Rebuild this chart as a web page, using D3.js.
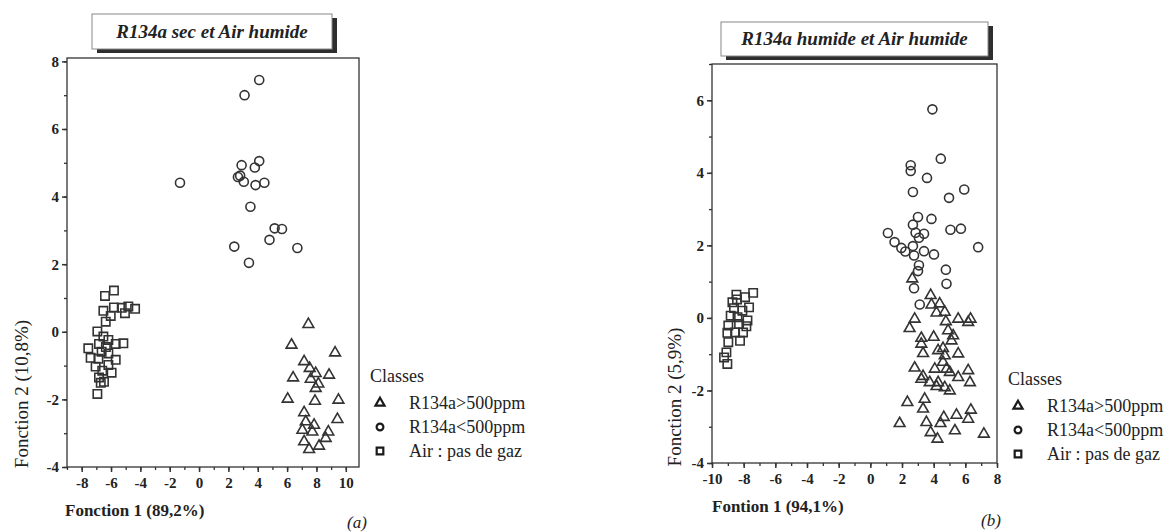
<!DOCTYPE html>
<html><head><meta charset="utf-8">
<script src="https://cdn.jsdelivr.net/npm/d3@7"></script>
<style>body{margin:0;background:#fff}svg{display:block}text{font-family:"Liberation Serif","Times New Roman",serif;fill:#222}</style>
</head><body><svg id="c" width="1164" height="532"></svg>
<script>
const classLabels = ["R134a>500ppm", "R134a<500ppm", "Air : pas de gaz"];
const titleA = "R134a sec et Air humide";
const titleB = "R134a humide et Air humide";
const xTitleA = "Fonction 1 (89,2%)", yTitleA = "Fonction 2 (10,8%)";
const xTitleB = "Fontion 1 (94,1%)", yTitleB = "Fonction 2 (5,9%)";
const xTicksA = [-8,-6,-4,-2,0,2,4,6,8,10], yTicksA = [-4,-2,0,2,4,6,8];
const xTicksB = [-10,-8,-6,-4,-2,0,2,4,6,8], yTicksB = [-4,-2,0,2,4,6];

const aTriangles = [[7.45,0.22],[6.3,-0.39],[9.27,-0.62],[7.16,-0.88],[7.54,-1.08],[7.95,-1.23],[8.86,-1.28],[6.41,-1.36],[7.61,-1.40],[8.13,-1.54],[7.95,-1.67],[6.04,-1.99],[7.9,-2.05],[9.5,-2.02],[7.16,-2.39],[9.43,-2.59],[7.27,-2.66],[7.84,-2.76],[7.04,-2.91],[7.72,-2.96],[8.81,-2.96],[8.63,-3.15],[7.16,-3.25],[8.18,-3.38],[7.5,-3.48]];
const aCircles = [[4.1,7.45],[3.1,7.0],[4.1,5.05],[2.9,4.93],[3.8,4.86],[2.8,4.62],[2.65,4.58],[3.05,4.44],[3.85,4.34],[4.45,4.41],[-1.3,4.41],[3.5,3.7],[5.15,3.06],[5.65,3.04],[4.8,2.72],[2.4,2.52],[6.7,2.48],[3.4,2.04]];
const aSquares = [[-5.8,1.22],[-6.41,1.06],[-6.52,0.62],[-5.8,0.72],[-5.27,0.71],[-4.82,0.75],[-4.36,0.68],[-5.05,0.55],[-6.02,0.47],[-6.36,0.3],[-6.93,0.01],[-6.52,-0.14],[-6.18,-0.24],[-5.16,-0.34],[-5.68,-0.36],[-6.82,-0.36],[-7.55,-0.49],[-6.64,-0.59],[-6.18,-0.64],[-7.39,-0.77],[-6.86,-0.8],[-5.68,-0.83],[-6.18,-0.98],[-7.05,-1.03],[-5.96,-1.21],[-6.82,-1.35],[-6.48,-1.48],[-6.7,-1.51],[-6.93,-1.84],[-6.35,-0.45],[-6.6,-1.15]];

const bTriangles = [[2.65,1.08],[3.81,0.62],[3.86,0.36],[4.38,0.39],[4.7,0.16],[4.18,0.14],[5.55,-0.03],[6.33,-0.03],[6.18,-0.12],[2.8,-0.03],[4.77,-0.1],[2.48,-0.29],[4.91,-0.35],[5.23,-0.49],[3.22,-0.56],[4.0,-0.53],[5.13,-0.63],[3.22,-0.72],[4.59,-0.84],[4.28,-0.9],[3.33,-0.98],[5.55,-0.99],[4.7,-1.04],[4.59,-1.22],[2.8,-1.38],[4.07,-1.41],[4.81,-1.41],[5.02,-1.5],[6.18,-1.45],[3.33,-1.61],[5.55,-1.64],[3.75,-1.78],[6.29,-1.78],[4.28,-1.78],[3.22,-1.69],[4.18,-1.89],[4.7,-1.92],[5.02,-2.01],[2.34,-2.33],[3.43,-2.24],[3.33,-2.51],[6.35,-2.54],[5.44,-2.68],[4.64,-2.74],[6.18,-2.79],[1.85,-2.91],[3.54,-2.88],[4.43,-2.91],[3.81,-3.16],[5.34,-3.11],[7.17,-3.2],[4.24,-3.34]];
const bCircles = [[3.92,5.75],[4.45,4.39],[2.55,4.21],[2.55,4.05],[3.58,3.86],[2.69,3.47],[5.93,3.54],[4.97,3.31],[3.01,2.78],[3.86,2.73],[2.69,2.57],[5.06,2.43],[5.72,2.46],[2.86,2.35],[3.39,2.32],[1.11,2.34],[3.07,2.21],[1.53,2.09],[2.69,1.98],[1.96,1.93],[3.39,1.84],[2.21,1.83],[4.02,1.75],[2.76,1.72],[6.81,1.95],[3.07,1.45],[3.01,1.29],[4.77,1.33],[4.81,0.94],[2.76,0.82],[3.12,0.37]];
const bSquares = [[-7.4,0.69],[-8.46,0.64],[-7.91,0.57],[-8.42,0.51],[-8.71,0.43],[-7.66,0.29],[-8.61,0.27],[-8.08,0.2],[-8.82,0.06],[-8.39,0.02],[-7.76,-0.07],[-8.97,-0.21],[-8.29,-0.17],[-7.83,-0.23],[-9.03,-0.41],[-8.54,-0.4],[-8.04,-0.4],[-8.97,-0.67],[-8.23,-0.63],[-9.09,-0.95],[-9.24,-1.09],[-9.03,-1.27]];

const svg = d3.select("#c");
const INK = "#333";
const symTypes = [d3.symbolTriangle, d3.symbolCircle, d3.symbolSquare];
const symSizes = [50, 64, 70];
const legSizes = [36, 36, 44];

function panel(cfg) {
  const g = svg.append("g");
  const x = d3.scaleLinear().domain(cfg.xd).range(cfg.xr);
  const y = d3.scaleLinear().domain(cfg.yd).range(cfg.yr);
  const tb = cfg.tbox;
  g.append("rect").attr("x", tb[0]+5).attr("y", tb[1]+4).attr("width", tb[2]).attr("height", tb[3]).attr("fill", "#2e2e2e");
  g.append("rect").attr("x", tb[0]).attr("y", tb[1]).attr("width", tb[2]).attr("height", tb[3]).attr("fill", "#fff").attr("stroke", "#888").attr("stroke-width", 1);
  g.append("text").attr("x", tb[0]+tb[2]/2).attr("y", tb[1]+tb[3]/2+6).attr("text-anchor", "middle")
    .attr("font-size", 19).attr("font-weight", "bold").attr("font-style", "italic").attr("fill", "#1a1a1a").text(cfg.title);
  g.append("rect").attr("x", cfg.xr[0]).attr("y", cfg.yr[1]).attr("width", cfg.xr[1]-cfg.xr[0]).attr("height", cfg.yr[0]-cfg.yr[1])
    .attr("fill", "none").attr("stroke", INK).attr("stroke-width", 1.3);
  const xMinor = d3.range(Math.ceil(cfg.xd[0]), Math.floor(cfg.xd[1])+1);
  const yMinor = d3.range(Math.ceil(cfg.yd[0]), Math.floor(cfg.yd[1])+1);
  g.append("g").attr("transform", `translate(0,${cfg.yr[0]})`).call(d3.axisBottom(x).tickValues(xMinor).tickSize(3).tickFormat(""))
    .call(s => s.select(".domain").remove()).call(s => s.selectAll("line").attr("stroke", INK).attr("stroke-width", 1.3));
  g.append("g").attr("transform", `translate(${cfg.xr[0]},0)`).call(d3.axisLeft(y).tickValues(yMinor).tickSize(3).tickFormat(""))
    .call(s => s.select(".domain").remove()).call(s => s.selectAll("line").attr("stroke", INK).attr("stroke-width", 1.3));
  const xa = g.append("g").attr("transform", `translate(0,${cfg.yr[0]})`)
    .call(d3.axisBottom(x).tickValues(cfg.xt).tickSize(5).tickPadding(5).tickFormat(d => String(d)));
  const ya = g.append("g").attr("transform", `translate(${cfg.xr[0]},0)`)
    .call(d3.axisLeft(y).tickValues(cfg.yt).tickSize(5).tickPadding(3).tickFormat(d => String(d)));
  [xa, ya].forEach(a => {
    a.select(".domain").remove();
    a.selectAll("line").attr("stroke", INK).attr("stroke-width", 1.5);
    a.selectAll("text").attr("font-family", "Liberation Serif, serif").attr("font-size", 15).attr("font-weight", "bold").attr("fill", "#222");
  });
  g.append("text").attr("x", cfg.xtPos[0]).attr("y", cfg.xtPos[1]).attr("font-size", 17).attr("font-weight", "bold").text(cfg.xTitle);
  g.append("text").attr("transform", `translate(${cfg.ytPos[0]},${cfg.ytPos[1]}) rotate(-90)`).attr("text-anchor", "middle")
    .attr("font-size", 19).text(cfg.yTitle);
  g.append("text").attr("x", cfg.tag[0]).attr("y", cfg.tag[1]).attr("font-size", 17).attr("font-style", "italic").text(cfg.tagText);
  cfg.series.forEach((pts, i) => {
    g.append("g").selectAll("path").data(pts).join("path")
      .attr("transform", d => `translate(${x(d[0])},${y(d[1])})`)
      .attr("d", d3.symbol(symTypes[i], symSizes[i]))
      .attr("fill", "none").attr("stroke", INK).attr("stroke-width", 1.6);
  });
  const L = cfg.legend;
  g.append("text").attr("x", L[0]).attr("y", L[1]).attr("font-size", 18).text("Classes");
  classLabels.forEach((lab, i) => {
    const yy = L[1] + 21 + i*24;
    g.append("path").attr("transform", `translate(${L[0]+10},${yy})`).attr("d", d3.symbol(symTypes[i], legSizes[i]))
      .attr("fill", "none").attr("stroke", "#1a1a1a").attr("stroke-width", 2.2);
    g.append("text").attr("x", L[0]+39).attr("y", yy+6).attr("font-size", 18).text(lab);
  });
}

panel({
  xd: [-9, 10.9], xr: [67, 359], yd: [-4, 8.1], yr: [467, 58],
  xt: xTicksA, yt: yTicksA, title: titleA, tbox: [92, 14, 240, 35],
  xTitle: xTitleA, yTitle: yTitleA, xtPos: [65, 516], ytPos: [28, 394],
  tag: [347, 528], tagText: "(a)", legend: [370, 382],
  series: [aTriangles, aCircles, aSquares]
});
panel({
  xd: [-10, 8], xr: [712, 997], yd: [-4, 7], yr: [463, 64],
  xt: xTicksB, yt: yTicksB, title: titleB, tbox: [721, 22, 267, 34],
  xTitle: xTitleB, yTitle: yTitleB, xtPos: [712, 512], ytPos: [681, 397],
  tag: [981, 526], tagText: "(b)", legend: [1008, 385],
  series: [bTriangles, bCircles, bSquares]
});
</script></body></html>
